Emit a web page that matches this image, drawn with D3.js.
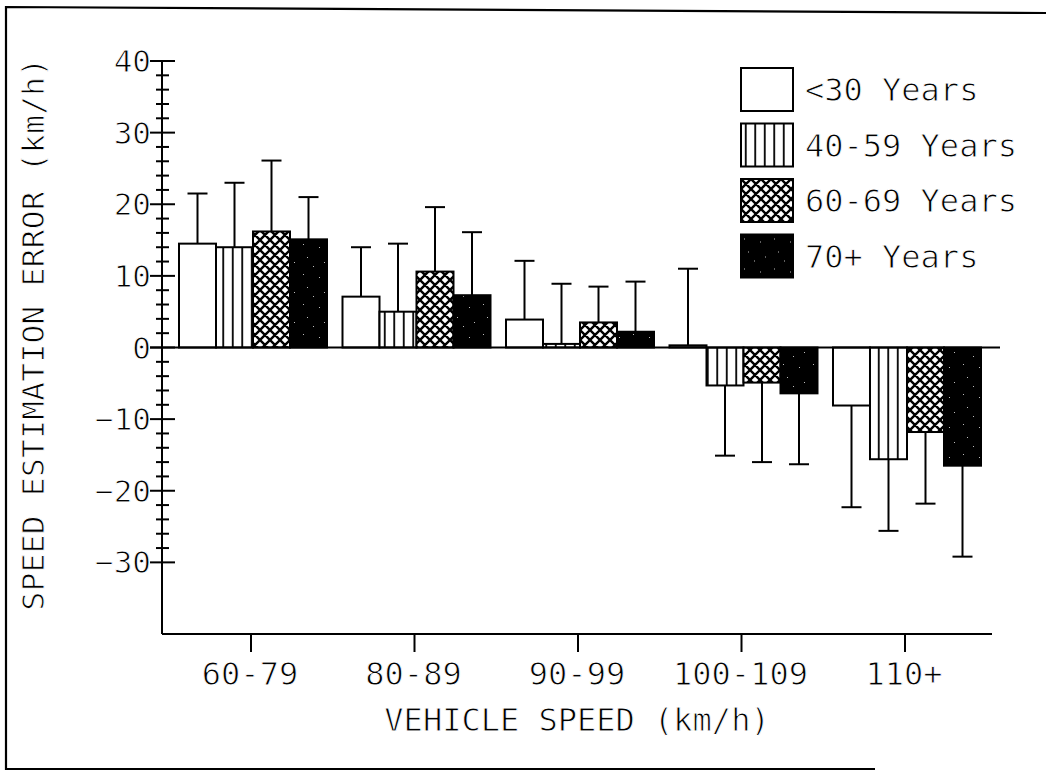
<!DOCTYPE html>
<html><head><meta charset="utf-8">
<script src="https://cdn.jsdelivr.net/npm/d3@7"></script>
<style>body{margin:0;background:#fff}svg{display:block}text{font-family:"DejaVu Sans Mono",monospace;fill:#000;stroke:#fff;stroke-width:0.9px;paint-order:fill}</style>
</head><body><svg id="c" width="1046" height="772"></svg>
<script>
const categories = ["60-79","80-89","90-99","100-109","110+"];
const seriesNames = ["<30 Years","40-59 Years","60-69 Years","70+ Years"];
const mean_u30   = [14.5, 7.1, 3.9, 0.3, -8.1];
const sd_u30     = [7.0, 6.9, 8.2, 10.7, 14.2];
const mean_40_59 = [14.0, 5.0, 0.5, -5.3, -15.6];
const sd_40_59   = [9.0, 9.5, 8.4, 9.8, 10.0];
const mean_60_69 = [16.2, 10.6, 3.5, -4.9, -11.8];
const sd_60_69   = [9.9, 9.0, 5.0, 11.1, 10.0];
const mean_70p   = [15.1, 7.3, 2.2, -6.4, -16.5];
const sd_70p     = [5.9, 8.8, 7.0, 9.9, 12.7];
const yTickLabels = [-30,-20,-10,0,10,20,30,40];

const means = [mean_u30, mean_40_59, mean_60_69, mean_70p];
const sds = [sd_u30, sd_40_59, sd_60_69, sd_70p];
const fills = ["#fff","url(#pv)","url(#px)","url(#pb)"];

const svg = d3.select("#c");
const defs = svg.append("defs");
const pv = defs.append("pattern").attr("id","pv").attr("patternUnits","userSpaceOnUse").attr("width",9.5).attr("height",10);
pv.append("rect").attr("width",9.5).attr("height",10).attr("fill","#fff");
pv.append("line").attr("x1",4.75).attr("x2",4.75).attr("y1",0).attr("y2",10).attr("stroke","#000").attr("stroke-width",1.8);
const px = defs.append("pattern").attr("id","px").attr("patternUnits","userSpaceOnUse").attr("width",10).attr("height",10);
px.append("rect").attr("width",10).attr("height",10).attr("fill","#fff");
px.append("path").attr("d","M0,0L10,10M0,10L10,0M-1,1L1,-1M9,11L11,9M-1,9L1,11M9,-1L11,1").attr("stroke","#000").attr("stroke-width",2.4);
const pb = defs.append("pattern").attr("id","pb").attr("patternUnits","userSpaceOnUse").attr("width",30).attr("height",30);
pb.append("rect").attr("width",30).attr("height",30).attr("fill","#000");
[[3,4],[19,7],[7,17],[24,22],[13,26]].forEach(([a,b])=>pb.append("rect").attr("x",a).attr("y",b).attr("width",1).attr("height",1).attr("fill","#bbb"));

const y = d3.scaleLinear().domain([-40,40]).range([634,61]);
const x0 = d3.scaleBand().domain(categories).range([179,981]).paddingInner(0.0948).paddingOuter(0);
const x1 = d3.scaleBand().domain(seriesNames).range([0,x0.bandwidth()]).padding(0);

svg.append("path").attr("d","M1046,13L6,7L6,769L875,769").attr("fill","none").attr("stroke","#000").attr("stroke-width",2.2);

const data = [];
categories.forEach((c,i)=>seriesNames.forEach((s,j)=>data.push({c,s,j,v:means[j][i],sd:sds[j][i]})));
const g = svg.append("g");
g.selectAll("rect.bar").data(data).join("rect").attr("class","bar")
 .attr("x",d=>x0(d.c)+x1(d.s)).attr("width",x1.bandwidth())
 .attr("y",d=>y(Math.max(0,d.v))).attr("height",d=>Math.abs(y(d.v)-y(0)))
 .attr("fill",d=>fills[d.j]).attr("stroke","#000").attr("stroke-width",2);
const cx = d=>x0(d.c)+x1(d.s)+x1.bandwidth()/2;
const capY = d=>y(d.v>=0?d.v+d.sd:d.v-d.sd);
const eb = g.selectAll("g.eb").data(data).join("g").attr("class","eb");
eb.append("line").attr("x1",cx).attr("x2",cx).attr("y1",d=>y(d.v)).attr("y2",capY).attr("stroke","#000").attr("stroke-width",2);
eb.append("line").attr("x1",d=>cx(d)-10).attr("x2",d=>cx(d)+10).attr("y1",capY).attr("y2",capY).attr("stroke","#000").attr("stroke-width",2);

svg.append("line").attr("x1",150).attr("x2",1000).attr("y1",y(0)).attr("y2",y(0)).attr("stroke","#000").attr("stroke-width",2);

const ya = svg.append("g");
ya.append("line").attr("x1",162).attr("x2",162).attr("y1",y(40)).attr("y2",y(-40)).attr("stroke","#000").attr("stroke-width",2);
d3.range(-30,41,2).forEach(v=>{
  const major = v%10===0;
  ya.append("line").attr("x1",major?150:156).attr("x2",major?175:169).attr("y1",y(v)).attr("y2",y(v)).attr("stroke","#000").attr("stroke-width",2);
});
ya.selectAll("text").data(yTickLabels).join("text").attr("x",151).attr("y",d=>y(d)+11).attr("text-anchor","end")
 .attr("font-size",31).text(d=>d<0?"−"+Math.abs(d):d);

const xa = svg.append("g");
xa.append("line").attr("x1",162).attr("x2",992).attr("y1",634).attr("y2",634).attr("stroke","#000").attr("stroke-width",2);
xa.selectAll("line.t").data(categories).join("line").attr("class","t")
 .attr("x1",d=>x0(d)+x0.bandwidth()/2-2).attr("x2",d=>x0(d)+x0.bandwidth()/2-2).attr("y1",634).attr("y2",652).attr("stroke","#000").attr("stroke-width",2);
xa.selectAll("text").data(categories).join("text").attr("x",d=>x0(d)+x0.bandwidth()/2-3).attr("y",685).attr("text-anchor","middle")
 .attr("font-size",32).text(d=>d);

svg.append("text").attr("x",577).attr("y",731).attr("text-anchor","middle").attr("font-size",32).text("VEHICLE SPEED (km/h)");
svg.append("text").attr("transform","translate(44,334) rotate(-90)").attr("text-anchor","middle").attr("font-size",31).attr("letter-spacing",0.4).text("SPEED ESTIMATION ERROR (km/h)");

const lg = svg.append("g").attr("transform","translate(741,68)");
const li = lg.selectAll("g").data(seriesNames).join("g").attr("transform",(d,i)=>`translate(0,${i*55.5})`);
li.append("rect").attr("width",52).attr("height",43).attr("fill",(d,i)=>fills[i]).attr("stroke","#000").attr("stroke-width",2);
li.append("text").attr("x",64).attr("y",33).attr("font-size",32).text(d=>d);
</script></body></html>
